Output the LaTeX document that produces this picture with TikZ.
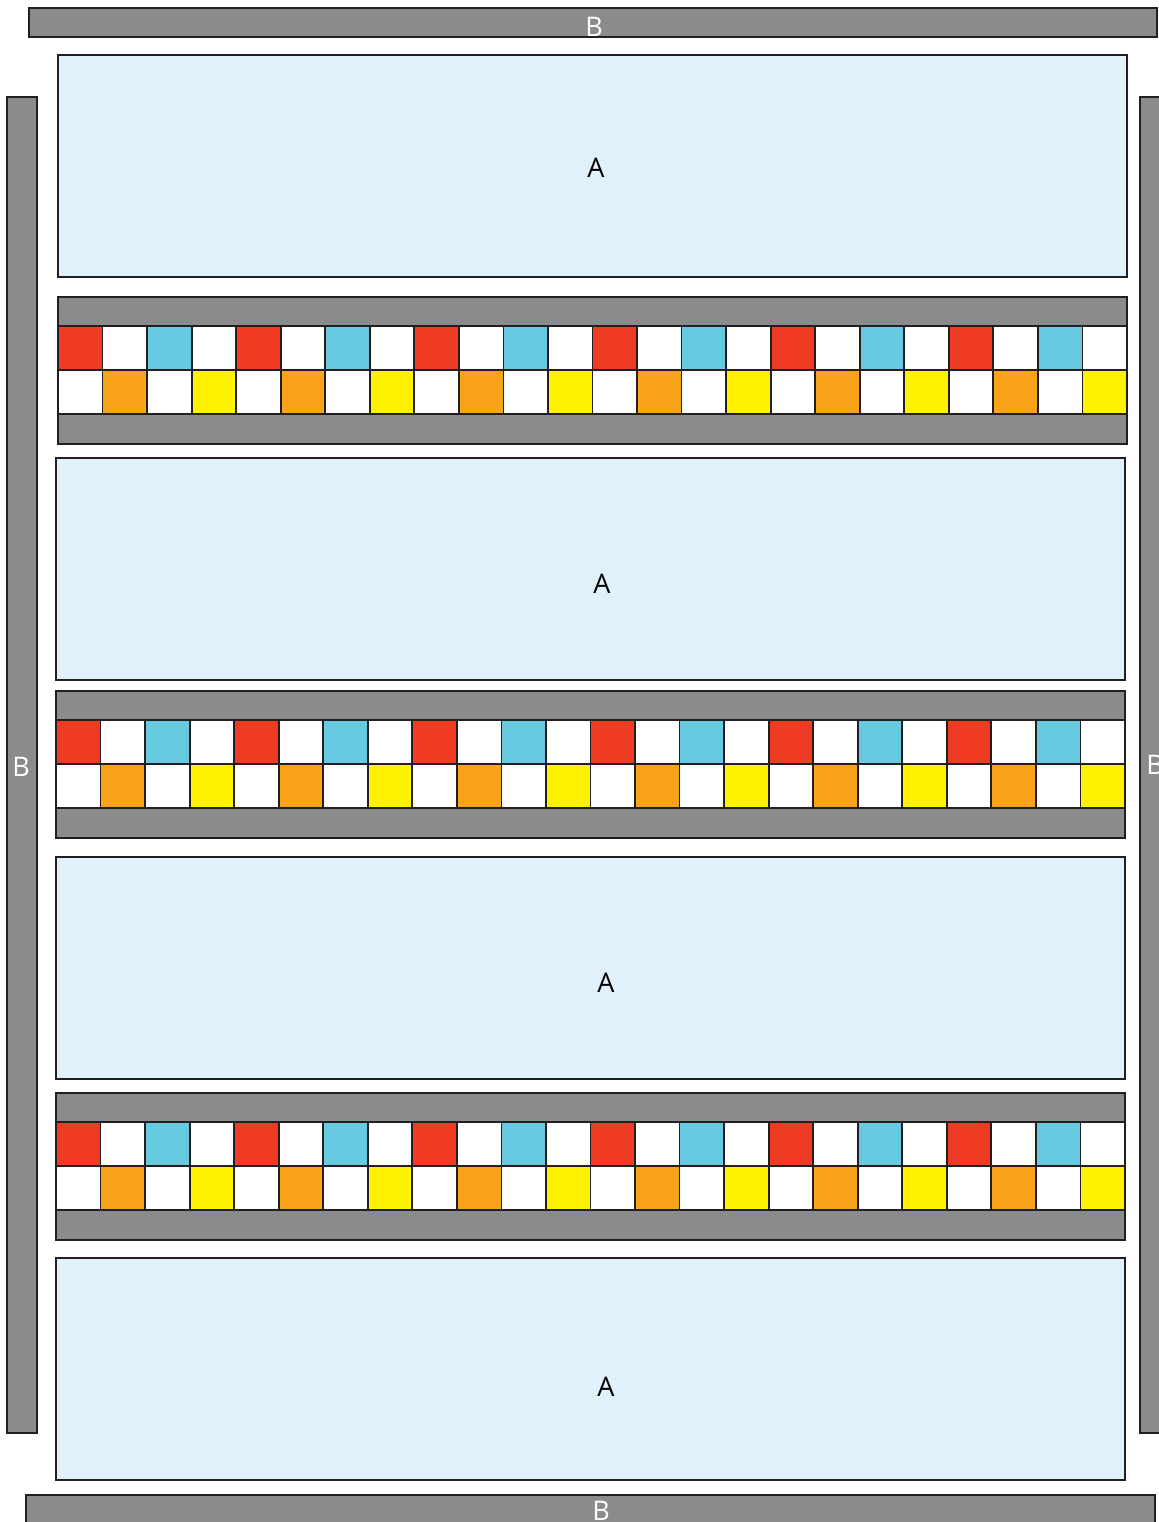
\documentclass[tikz,border=0pt]{standalone}
\usepackage{fontspec}
\setmainfont{Open Sans}

\definecolor{barGray}{HTML}{8A8B8D}
\definecolor{paleBlue}{HTML}{E0F1FB}
\definecolor{edgeInk}{HTML}{231F20}
\definecolor{tileRed}{HTML}{EF3B24}
\definecolor{tileCyan}{HTML}{68CAE1}
\definecolor{tileOrange}{HTML}{F9A31B}
\definecolor{tileYellow}{HTML}{FFF200}

\tikzset{
  bar/.style={draw=edgeInk, fill=barGray, line width=0.9pt},
  zone/.style={draw=edgeInk, fill=paleBlue, line width=0.9pt},
  tile/.style={draw=edgeInk, line width=0.9pt},
  barlabel/.style={text=white, inner sep=0pt, font=\fontsize{13.5}{16}\selectfont},
  zonelabel/.style={text=black, inner sep=0pt, font=\fontsize{13.5}{16}\selectfont}
}

% strip of tiles: left, right, top
\newcommand{\tilestrip}[3]{%
  \pgfmathsetmacro{\tw}{(#2-#1)/24}
  \draw[bar] (#1,#3) rectangle (#2,#3+147); % gray band behind the tiles
  \foreach \j in {0,...,5}{
    \foreach \k/\ca/\cb in {0/tileRed/white, 1/white/tileOrange, 2/tileCyan/white, 3/white/tileYellow}{
      \pgfmathsetmacro{\xa}{#1+(4*\j+\k)*\tw}
      \draw[tile, fill=\ca] (\xa,#3+29) rectangle ++(\tw,44);
      \draw[tile, fill=\cb] (\xa,#3+73) rectangle ++(\tw,44);
    }
  }
}

\begin{document}
\begin{tikzpicture}[x=0.5pt, y=-0.5pt]
    % --- page frame ---
    \useasboundingbox (0,0) rectangle (1159,1522);
    \clip (0,0) rectangle (1159,1522);

    % --- outer bars B ---
    \draw[bar] (29,8) rectangle (1157,37);
    \draw[bar] (7,97) rectangle (37,1433);
    \draw[bar] (1140,97) rectangle (1170,1433);
    \draw[bar] (26,1495) rectangle (1155,1524);
    \node[barlabel] (btop) at (594,27) {B};
    \node[barlabel] (bleft) at (21,767) {B};
    \node[barlabel] (bright) at (1155,765) {B};
    \node[barlabel] (bbottom) at (601,1511) {B};

    % --- zones A ---
    \draw[zone] (58,55) rectangle (1127,277);
    \draw[zone] (56,458) rectangle (1125,680);
    \draw[zone] (56,857) rectangle (1125,1079);
    \draw[zone] (56,1258) rectangle (1125,1480);
    \node[zonelabel] (zone1) at (596,168) {A};
    \node[zonelabel] (zone2) at (602,584) {A};
    \node[zonelabel] (zone3) at (606,983) {A};
    \node[zonelabel] (zone4) at (606,1387) {A};

    % --- tile strips ---
    \tilestrip{58}{1127}{297}
    \tilestrip{56}{1125}{691}
    \tilestrip{56}{1125}{1093}

\end{tikzpicture}
\end{document}
